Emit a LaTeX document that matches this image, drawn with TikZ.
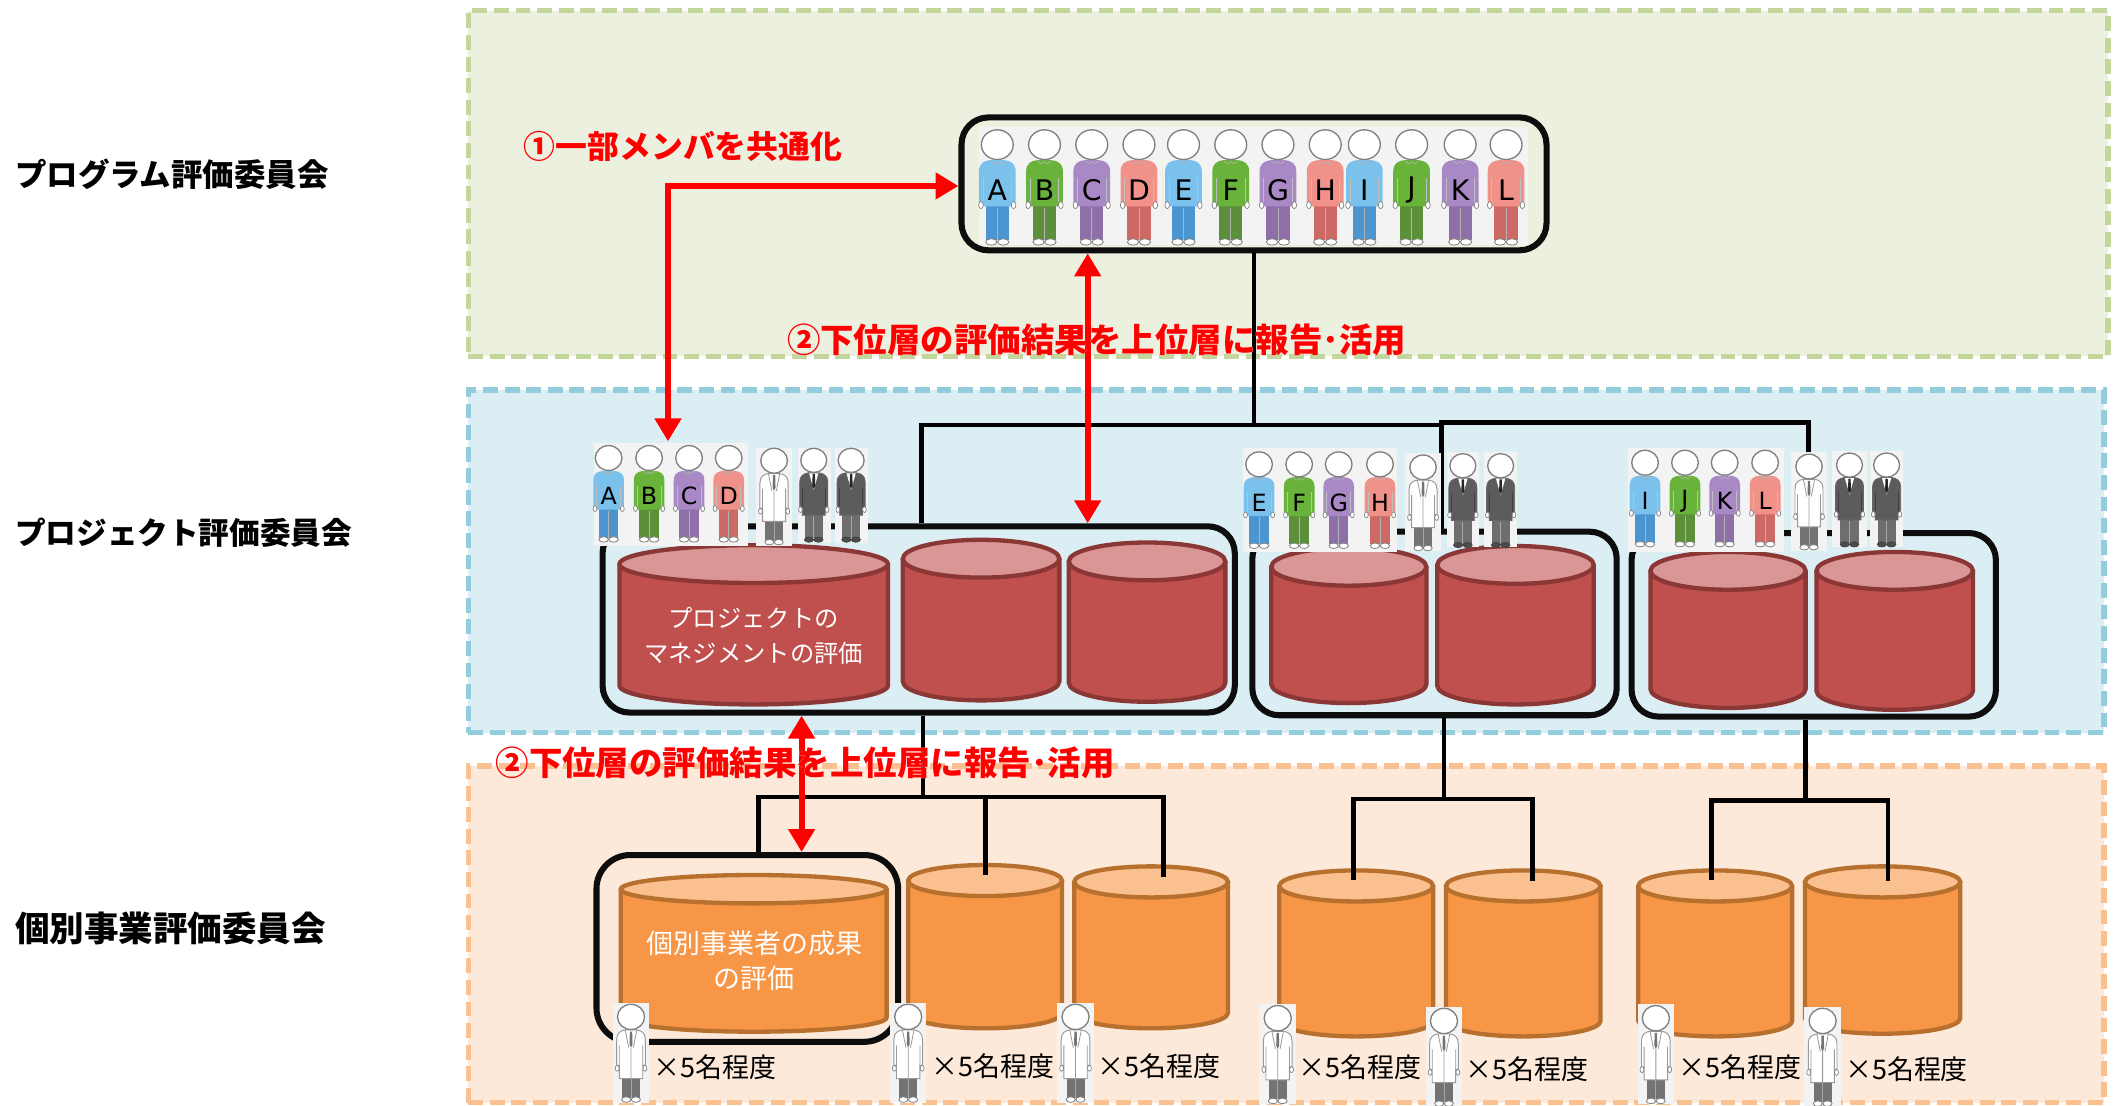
\documentclass[tikz,border=0pt]{standalone}
\usepackage{fontspec}
\usepackage{pdfrender}
\newfontfamily\jpfont{Noto Sans CJK JP}
\newfontfamily\latinfont{DejaVu Sans}
\usetikzlibrary{calc,arrows.meta}

\definecolor{bandgreen}{HTML}{EBF1DE}
\definecolor{bandgreenline}{HTML}{C3D69B}
\definecolor{bandblue}{HTML}{DBEEF4}
\definecolor{bandblueline}{HTML}{93CDDD}
\definecolor{bandorange}{HTML}{FDE9D9}
\definecolor{bandorangeline}{HTML}{FAC090}
\definecolor{cylred}{HTML}{C0504D}
\definecolor{cylredtop}{HTML}{D99694}
\definecolor{cylrededge}{HTML}{8B3735}
\definecolor{cylor}{HTML}{F79646}
\definecolor{cylortop}{HTML}{FAC090}
\definecolor{cyloredge}{HTML}{B8702F}
\definecolor{shirtblue}{HTML}{7AC1EC}
\definecolor{pantsblue}{HTML}{4B96D1}
\definecolor{shirtgreen}{HTML}{6AB33A}
\definecolor{pantsgreen}{HTML}{5B8F3A}
\definecolor{shirtpurple}{HTML}{A989C5}
\definecolor{pantspurple}{HTML}{8E6FA8}
\definecolor{shirtsalmon}{HTML}{F1928A}
\definecolor{pantssalmon}{HTML}{CE6A66}
\definecolor{suitjacket}{HTML}{5C5C5C}
\definecolor{suitpants}{HTML}{6E6E6E}
\definecolor{guyback}{HTML}{F3F3F3}
\definecolor{hilite}{HTML}{FF0000}

\tikzset{
  band/.style={line width=4pt, dash pattern=on 11pt off 5pt, inner sep=0pt},
  grpbox/.style={draw=black!95, line width=4.5pt, rounded corners=20pt, inner sep=0pt},
  link/.style={draw=black, line width=3.5pt},
  redarrow/.style={draw=hilite, line width=4.5pt,
    {Triangle[length=17pt,width=19pt]}-{Triangle[length=17pt,width=19pt]}},
  bandlabel/.style={anchor=west, inner sep=0pt},
  notice/.style={anchor=west, inner sep=0pt, text=hilite},
  cyltext/.style={align=center, inner sep=0pt, text=white},
  headcount/.style={anchor=west, inner sep=0pt, font=\jpfont\fontsize{20}{24}\selectfont},
  guyletter/.style={inner sep=0pt, transform shape, font=\latinfont\fontsize{21}{21}\selectfont},
}

% cylinder: name, left x, right x, top y, bottom y, cap half-height, palette
\newcommand\drawcyl[7]{%
  \pgfmathsetmacro\cxm{(#2+#3)/2}%
  \pgfmathsetmacro\crx{(#3-#2)/2}%
  \pgfmathsetmacro\cyb{#5-#6}%
  \pgfmathsetmacro\cyt{#4+#6}%
  \pgfmathsetmacro\cky{0.5523*#6}%
  \pgfmathsetmacro\ckx{0.5523*\crx}%
  \filldraw[fill=#7, draw=#7edge, line width=3.2pt, line join=round]
    (#2,\cyt) -- (#2,\cyb) .. controls (#2,\cyb+\cky) and (\cxm-\ckx,#5) .. (\cxm,#5)
    .. controls (\cxm+\ckx,#5) and (#3,\cyb+\cky) .. (#3,\cyb) -- (#3,\cyt);
  \filldraw[fill=#7top, draw=#7edge, line width=3.2pt] (\cxm,\cyt) ellipse ({\crx} and {#6});
  \coordinate (#1) at (\cxm,{(#4+#5)/2});
}

% head and hands shared by all figures
\newcommand\guyhead{%
  \filldraw[fill=white,draw=gray,line width=0.5pt] (-12.1,56) ellipse (1.7 and 2.6) (12.1,56) ellipse (1.7 and 2.6);
  \filldraw[fill=white,draw=black!50,line width=1pt] (0,11.2) ellipse (11.8 and 11);
}

% casual member: x, head top y, scale, shirt, trousers, letter
\newcommand\drawguy[6]{%
\begin{scope}[shift={(#1,#2)},scale=#3]
  \fill[#5] (-8.6,53) rectangle (8.6,82);
  \draw[black!30,line width=0.6pt] (0,58) -- (0,82);
  \filldraw[fill=white,draw=gray,line width=0.6pt] (-4.4,83.3) ellipse (4.2 and 2.4) (4.4,83.3) ellipse (4.2 and 2.4);
  \fill[#4] (-13.6,31) .. controls (-13.6,25) and (-10,23.2) .. (-5,22.6) -- (5,22.6)
     .. controls (10,23.2) and (13.6,25) .. (13.6,31) -- (13.6,53.5) -- (10.6,53.5)
     -- (10.6,57) -- (-10.6,57) -- (-10.6,53.5) -- (-13.6,53.5) -- cycle;
  \draw[black!25,line width=0.5pt] (-10.6,36) -- (-10.6,53.5) (10.6,36) -- (10.6,53.5);
  \draw[black!30,line width=0.5pt] (-5,23) .. controls (-2.5,25.8) .. (0,23.8) .. controls (2.5,25.8) .. (5,23);
  \guyhead
  \node[guyletter] at (0,45) {#6};
\end{scope}}

% expert in a white coat: x, head top y, scale
\newcommand\drawdoc[3]{%
\begin{scope}[shift={(#1,#2)},scale=#3]
  \fill[black!55] (-7.8,58) rectangle (7.8,82);
  \draw[black!35,line width=0.6pt] (0,64) -- (0,82);
  \filldraw[fill=white,draw=gray,line width=0.6pt] (-4.2,83.3) ellipse (4 and 2.4) (4.2,83.3) ellipse (4 and 2.4);
  \filldraw[fill=white,draw=black!40,line width=0.7pt] (-12.5,31) .. controls (-12.5,25) and (-9,23.2) .. (-5,22.6) -- (5,22.6)
     .. controls (9,23.2) and (12.5,25) .. (12.5,31) -- (12.5,53.5) -- (10.2,53.5)
     -- (10.2,65) -- (-10.2,65) -- (-10.2,53.5) -- (-12.5,53.5) -- cycle;
  \draw[black!40,line width=0.6pt] (-5,22.8) -- (-2,38) (5,22.8) -- (2,38) (0,38) -- (0,65)
     (-10.2,36) -- (-10.2,53.5) (10.2,36) -- (10.2,53.5);
  \fill[black!55] (-1,24) -- (1,24) -- (1.3,35) -- (0,38) -- (-1.3,35) -- cycle;
  \guyhead
\end{scope}}

% official in a dark suit: x, head top y, scale
\newcommand\drawsuit[3]{%
\begin{scope}[shift={(#1,#2)},scale=#3]
  \fill[suitpants] (-8.2,55) rectangle (8.2,82);
  \draw[black!35,line width=0.6pt] (0,62) -- (0,82);
  \filldraw[fill=black!70,draw=black!75,line width=0.5pt] (-4.3,83.3) ellipse (4.2 and 2.4) (4.3,83.3) ellipse (4.2 and 2.4);
  \filldraw[fill=suitjacket,draw=black!60,line width=0.6pt] (-12.8,31) .. controls (-12.8,25) and (-9,23.2) .. (-5,22.6) -- (5,22.6)
     .. controls (9,23.2) and (12.8,25) .. (12.8,31) -- (12.8,53.5) -- (10.4,53.5)
     -- (10.4,61) -- (-10.4,61) -- (-10.4,53.5) -- (-12.8,53.5) -- cycle;
  \fill[white] (-4.2,23) -- (4.2,23) -- (0,38) -- cycle;
  \fill[black!85] (-1,23.5) -- (1,23.5) -- (1.4,34) -- (0,37) -- (-1.4,34) -- cycle;
  \draw[black!75,line width=0.5pt] (-10.4,36) -- (-10.4,53.5) (10.4,36) -- (10.4,53.5);
  \guyhead
\end{scope}}

% red notice with a white halo: name, west point, font size, text
\newcommand\glowtext[4]{%
  \node[notice, text=white, font=\jpfont\bfseries\fontsize{#3}{#3}\selectfont] (#1halo) at (#2)
    {\textpdfrender{TextRenderingMode=Stroke,LineWidth=5,LineJoin=1,StrokeColor=white}{#4}};
  \node[notice, font=\jpfont\bfseries\fontsize{#3}{#3}\selectfont] (#1) at (#2) {#4};
}

\begin{document}
\begin{tikzpicture}[x=1pt,y=-1pt]
\useasboundingbox (0,0) rectangle (1568,819);

% committee bands
\node[band, fill=bandgreen, draw=bandgreenline, minimum width=1215pt, minimum height=256pt] (bandP) at (954.5,136) {};
\node[band, fill=bandblue, draw=bandblueline, minimum width=1212pt, minimum height=254pt] (bandJ) at (953,416) {};
\node[band, fill=bandorange, draw=bandorangeline, minimum width=1212pt, minimum height=249.4pt] (bandI) at (953,692.3) {};

\node[bandlabel, font=\jpfont\bfseries\fontsize{23.3}{28}\selectfont] (Lprog) at (11,129) {プログラム評価委員会};
\node[bandlabel, font=\jpfont\bfseries\fontsize{22.7}{28}\selectfont] (Lproj) at (11,395) {プロジェクト評価委員会};
\node[bandlabel, font=\jpfont\bfseries\fontsize{25.6}{28}\selectfont] (Lindv) at (11,688) {個別事業評価委員会};

% committee boxes
\node[grpbox, minimum width=433.5pt, minimum height=98.5pt] (T) at (929.25,136.25) {};
\node[grpbox, minimum width=468.5pt, minimum height=138pt] (B1) at (680.75,459) {};
\node[grpbox, minimum width=270pt, minimum height=136pt] (B2) at (1063,462) {};
\node[grpbox, minimum width=270pt, minimum height=136pt] (B3) at (1344,463) {};
\node[grpbox, rounded corners=25pt, minimum width=223.5pt, minimum height=138.4pt] (OB) at (553.75,702.8) {};

% tree from the programme committee down to the project groups
\coordinate (jL) at (683,315);
\coordinate (jM) at (1068,315);
\coordinate (jN) at (1068,313);
\coordinate (jR) at (1340,313);
\draw[link] (T.south) -- (T.south |- jL);
\draw[link] (jL |- B1.north) -- (jL) -- (jM);
\draw[link] (jN |- B2.north) -- (jN) -- (jR) -- (jR |- B3.north);

% project evaluations
\drawcyl{R1}{459}{658}{404}{522}{14}{cylred}
\drawcyl{R2}{669}{785}{400}{519}{14}{cylred}
\drawcyl{R3}{792}{908}{402}{520}{14}{cylred}
\drawcyl{R4}{942}{1057}{406}{521}{14}{cylred}
\drawcyl{R5}{1065}{1181}{404.6}{522}{14}{cylred}
\drawcyl{R6}{1223}{1338}{409}{524.6}{14}{cylred}
\drawcyl{R7}{1346}{1462}{409}{526}{14}{cylred}
\node[cyltext, font=\jpfont\fontsize{18}{26}\selectfont] (R1text) at (558.4,471) {プロジェクトの\\マネジメントの評価};

% individual project evaluations
\drawcyl{O1}{460}{657}{648.4}{764.5}{10.5}{cylor}
\drawcyl{O2}{673}{787}{641}{762}{11.5}{cylor}
\drawcyl{O3}{796}{910}{642}{762}{11.5}{cylor}
\drawcyl{O4}{948}{1062}{645}{768}{11.5}{cylor}
\drawcyl{O5}{1071.5}{1186}{645}{768}{11.5}{cylor}
\drawcyl{O6}{1214}{1328}{645}{768}{11.5}{cylor}
\drawcyl{O7}{1337.5}{1452.6}{642}{766}{11.5}{cylor}
\node[cyltext, font=\jpfont\fontsize{20}{26}\selectfont] (O1text) at (559,712) {個別事業者の成果\\の評価};

% tree from the project groups down to the individual evaluations
\coordinate (kA) at (684,590.6);
\coordinate (kL) at (562,590.6);
\coordinate (kR) at (862,590.6);
\coordinate (kM) at (730,590.6);
\draw[link] (kA |- B1.south) -- (kA);
\draw[link] (kL |- OB.north) -- (kL) -- (kR) -- (862,649.6);
\draw[link] (kM) -- (730,648.4);
\coordinate (mA) at (1070,592);
\coordinate (mL) at (1003,592);
\coordinate (mR) at (1135.6,592);
\draw[link] (mA |- B2.south) -- (mA);
\draw[link] (1003,652) -- (mL) -- (mR) -- (1135.6,653);
\coordinate (nA) at (1338,593);
\coordinate (nL) at (1268,593);
\coordinate (nR) at (1399,593);
\draw[link] (nA |- B3.south) -- (nA);
\draw[link] (1268,652) -- (nL) -- (nR) -- (1399,653);

% members of the programme committee
\fill[guyback] (725.5,94) rectangle (861,181.6);
\fill[guyback] (862,94) rectangle (1132,181.6);
\drawguy{739}{96}{1}{shirtblue}{pantsblue}{A}
\drawguy{774}{96}{1}{shirtgreen}{pantsgreen}{B}
\drawguy{809}{96}{1}{shirtpurple}{pantspurple}{C}
\drawguy{844}{96}{1}{shirtsalmon}{pantssalmon}{D}
\drawguy{877}{96}{1}{shirtblue}{pantsblue}{E}
\drawguy{912}{96}{1}{shirtgreen}{pantsgreen}{F}
\drawguy{947}{96}{1}{shirtpurple}{pantspurple}{G}
\drawguy{982}{96}{1}{shirtsalmon}{pantssalmon}{H}
\drawguy{1011}{96}{1}{shirtblue}{pantsblue}{I}
\drawguy{1046}{96}{1}{shirtgreen}{pantsgreen}{J}
\drawguy{1082}{96}{1}{shirtpurple}{pantspurple}{K}
\drawguy{1116}{96}{1}{shirtsalmon}{pantssalmon}{L}

% members of the project committees
\fill[guyback] (440,328.5) rectangle (554,404.6);
\fill[guyback] (560,332) rectangle (587,404.6);
\fill[guyback] (591,332) rectangle (615.6,402);
\fill[guyback] (619,332) rectangle (643,402);
\drawguy{451}{330}{0.837}{shirtblue}{pantsblue}{A}
\drawguy{481}{330}{0.837}{shirtgreen}{pantsgreen}{B}
\drawguy{510.6}{330}{0.837}{shirtpurple}{pantspurple}{C}
\drawguy{540}{330}{0.837}{shirtsalmon}{pantssalmon}{D}
\drawdoc{573.6}{332}{0.837}
\drawsuit{603}{332}{0.815}
\drawsuit{630.7}{332}{0.815}

\fill[guyback] (921,332) rectangle (1035,409);
\fill[guyback] (1041,336) rectangle (1068,408);
\fill[guyback] (1072,335) rectangle (1096,405);
\fill[guyback] (1100,335) rectangle (1124,405);
\drawguy{933}{334.7}{0.837}{shirtblue}{pantsblue}{E}
\drawguy{962.7}{334.7}{0.837}{shirtgreen}{pantsgreen}{F}
\drawguy{992}{334.7}{0.837}{shirtpurple}{pantspurple}{G}
\drawguy{1022.6}{334.7}{0.837}{shirtsalmon}{pantssalmon}{H}
\drawdoc{1054.5}{337}{0.83}
\drawsuit{1084}{336}{0.815}
\drawsuit{1112}{336}{0.815}

\fill[guyback] (1206,332) rectangle (1322,408.8);
\fill[guyback] (1327,335) rectangle (1354,408);
\fill[guyback] (1357.6,334) rectangle (1383.5,405);
\fill[guyback] (1386,334) rectangle (1410,405);
\drawguy{1219}{333.5}{0.837}{shirtblue}{pantsblue}{I}
\drawguy{1248.6}{333.5}{0.837}{shirtgreen}{pantsgreen}{J}
\drawguy{1278}{333.5}{0.837}{shirtpurple}{pantspurple}{K}
\drawguy{1308}{333.5}{0.837}{shirtsalmon}{pantssalmon}{L}
\drawdoc{1340.5}{336.4}{0.83}
\drawsuit{1370.5}{335.5}{0.815}
\drawsuit{1398}{335.5}{0.815}

% experts of the individual committees
\foreach \cx/\ty in {467.6/744,673/744,797/744,946.8/745,1070/747,1227/745,1350.6/747}{
  \fill[guyback] (\cx-13.5,\ty-1) rectangle (\cx+13.5,\ty+73);
  \drawdoc{\cx}{\ty}{0.85}
}
\node[headcount] (n1) at (484,790.6) {×5名程度};
\node[headcount] (n2) at (690,790) {×5名程度};
\node[headcount] (n3) at (813,790) {×5名程度};
\node[headcount] (n4) at (962,791) {×5名程度};
\node[headcount] (n5) at (1086,792) {×5名程度};
\node[headcount] (n6) at (1243.6,791) {×5名程度};
\node[headcount] (n7) at (1367,792) {×5名程度};

% shared membership and reporting arrows
\coordinate (pB) at (495,327);
\coordinate (a1) at (495,137.8);
\draw[redarrow] (pB) -- (a1) -- (a1 -| T.west);
\coordinate (a2) at (806,0);
\draw[redarrow] (a2 |- T.south) -- (a2 |- B1.north);
\coordinate (a3) at (594,0);
\draw[redarrow] (a3 |- B1.south) -- (a3 |- OB.north);

\glowtext{note1}{388,108.7}{23.6}{①一部メンバを共通化}
\glowtext{note2}{583,252}{24.8}{②下位層の評価結果を上位層に報告･活用}
\glowtext{note3}{367,565}{24.8}{②下位層の評価結果を上位層に報告･活用}
\end{tikzpicture}
\end{document}
